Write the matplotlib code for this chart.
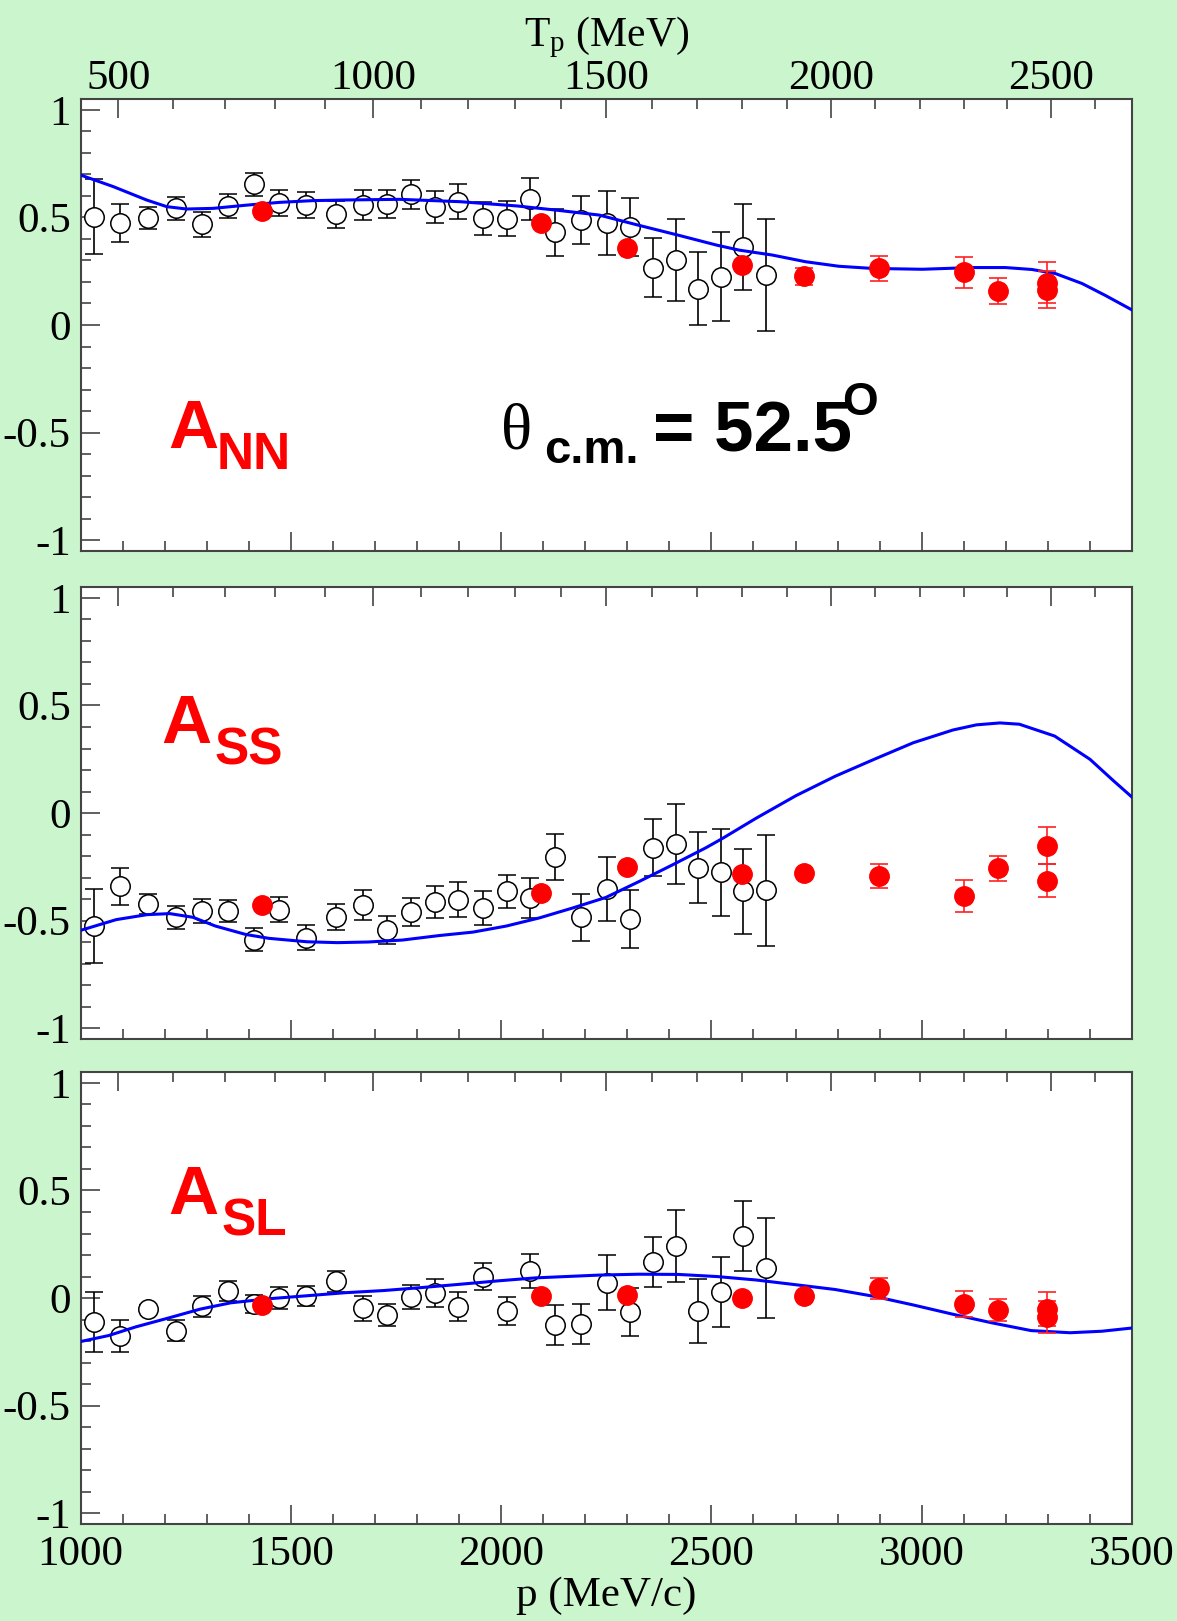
import numpy as np
import matplotlib
matplotlib.use("Agg")
import matplotlib.pyplot as plt
from matplotlib.ticker import MultipleLocator, FixedLocator, FormatStrFormatter

plt.rcParams['font.family'] = ['Liberation Serif', 'DejaVu Serif']
plt.rcParams['mathtext.fontset'] = 'custom'
plt.rcParams['mathtext.rm'] = 'Liberation Serif'
plt.rcParams['mathtext.it'] = 'Liberation Serif:italic'
plt.rcParams['axes.unicode_minus'] = False

# ---- data ----
p_open = [1031, 1094, 1160, 1227, 1289, 1351, 1412, 1472, 1537, 1607, 1671, 1728,
          1785, 1842, 1898, 1956, 2013, 2069, 2128, 2191, 2252, 2306, 2360, 2415,
          2469, 2523, 2576, 2630]
p_red = [1431, 2095, 2299, 2572, 2720, 2899, 3100, 3181, 3299, 3299]

ann_open = [0.503, 0.475, 0.498, 0.542, 0.469, 0.553, 0.654, 0.568, 0.557, 0.514,
            0.559, 0.562, 0.607, 0.550, 0.573, 0.495, 0.494, 0.584, 0.430, 0.488,
            0.475, 0.457, 0.267, 0.303, 0.168, 0.224, 0.363, 0.231]
ann_open_err = [0.175, 0.088, 0.050, 0.054, 0.058, 0.055, 0.053, 0.060, 0.059, 0.062,
                0.070, 0.066, 0.066, 0.074, 0.080, 0.078, 0.080, 0.097, 0.108, 0.110,
                0.150, 0.135, 0.136, 0.190, 0.170, 0.207, 0.200, 0.260]
ann_red = [0.531, 0.472, 0.360, 0.280, 0.227, 0.264, 0.244, 0.157, 0.196, 0.165]
ann_red_err = [0.01, 0.01, 0.01, 0.01, 0.039, 0.058, 0.073, 0.060, 0.095, 0.088]

ass_open = [-0.525, -0.341, -0.422, -0.484, -0.453, -0.456, -0.588, -0.449, -0.579, -0.482,
            -0.429, -0.545, -0.461, -0.413, -0.402, -0.442, -0.364, -0.395, -0.203, -0.484,
            -0.353, -0.492, -0.161, -0.143, -0.253, -0.276, -0.364, -0.359]
ass_open_err = [0.170, 0.087, 0.048, 0.054, 0.056, 0.052, 0.054, 0.058, 0.058, 0.060,
                0.070, 0.065, 0.065, 0.075, 0.082, 0.078, 0.078, 0.094, 0.108, 0.110,
                0.150, 0.134, 0.133, 0.187, 0.167, 0.204, 0.197, 0.259]
ass_red = [-0.426, -0.372, -0.250, -0.284, -0.278, -0.292, -0.387, -0.257, -0.152, -0.315]
ass_red_err = [0.01, 0.01, 0.01, 0.01, 0.01, 0.057, 0.074, 0.059, 0.086, 0.077]

asl_open = [-0.110, -0.178, -0.051, -0.151, -0.038, 0.033, -0.027, 0.002, 0.011, 0.078,
            -0.048, -0.078, 0.005, 0.024, -0.040, 0.100, -0.062, 0.127, -0.123, -0.119,
            0.072, -0.064, 0.169, 0.242, -0.059, 0.027, 0.287, 0.139]
asl_open_err = [0.140, 0.074, 0.020, 0.047, 0.048, 0.045, 0.042, 0.051, 0.046, 0.048,
                0.060, 0.052, 0.056, 0.064, 0.068, 0.062, 0.065, 0.080, 0.093, 0.092,
                0.126, 0.110, 0.116, 0.166, 0.149, 0.163, 0.162, 0.233]
asl_red = [-0.033, 0.011, 0.016, 0.000, 0.011, 0.046, -0.027, -0.054, -0.050, -0.088]
asl_red_err = [0.01, 0.01, 0.01, 0.01, 0.01, 0.049, 0.060, 0.052, 0.080, 0.075]

# theory curves
ann_th_p = [1000, 1078, 1157, 1205, 1252, 1315, 1395, 1474, 1553, 1632, 1759, 1903, 2039,
            2130, 2233, 2326, 2420, 2513, 2566, 2645, 2724, 2803, 2882, 3001, 3120, 3199,
            3262, 3318, 3381, 3436, 3500]
ann_th = [0.697, 0.643, 0.581, 0.550, 0.539, 0.542, 0.557, 0.570, 0.578, 0.581, 0.584,
          0.573, 0.553, 0.534, 0.511, 0.464, 0.418, 0.371, 0.348, 0.325, 0.294, 0.273,
          0.263, 0.259, 0.267, 0.267, 0.258, 0.239, 0.193, 0.138, 0.070]

ass_th_p = [1000, 1085, 1158, 1212, 1267, 1321, 1393, 1448, 1539, 1611, 1684, 1765, 1853,
            1933, 2012, 2091, 2170, 2249, 2328, 2407, 2487, 2526, 2607, 2701, 2794, 2887,
            2980, 3074, 3130, 3186, 3232, 3316, 3400, 3456, 3500]
ass_th = [-0.545, -0.495, -0.472, -0.467, -0.484, -0.525, -0.564, -0.582, -0.598, -0.602,
          -0.599, -0.590, -0.569, -0.553, -0.525, -0.487, -0.441, -0.392, -0.318, -0.241,
          -0.161, -0.118, -0.023, 0.081, 0.171, 0.250, 0.327, 0.386, 0.410, 0.419, 0.413,
          0.358, 0.250, 0.150, 0.074]

asl_th_p = [1000, 1067, 1131, 1212, 1285, 1357, 1448, 1539, 1629, 1720, 1811, 1901, 1992,
            2082, 2234, 2327, 2421, 2514, 2607, 2701, 2794, 2887, 2980, 3074, 3167, 3260,
            3353, 3428, 3500]
asl_th = [-0.202, -0.174, -0.134, -0.091, -0.051, -0.022, -0.003, 0.011, 0.025, 0.035,
          0.049, 0.064, 0.080, 0.094, 0.107, 0.111, 0.110, 0.100, 0.084, 0.062, 0.040,
          0.008, -0.032, -0.075, -0.115, -0.151, -0.161, -0.154, -0.139]

labels_main = ['A', 'A', 'A']
labels_sub = ['NN', 'SS', 'SL']

M_P = 938.27  # proton mass (MeV)


def p2T(p):
    p = np.asarray(p, dtype=float)
    return np.sqrt(p ** 2 + M_P ** 2) - M_P


def T2p(T):
    T = np.clip(np.asarray(T, dtype=float), 0, None)
    return np.sqrt(T ** 2 + 2 * T * M_P)


bg = '#CBF5CD'
spine_c = '#444444'
fig = plt.figure(figsize=(11.77, 16.21), dpi=100, facecolor=bg)

left, width, height = 0.0684, 0.8934, 0.2788
bottoms = [0.6601, 0.3590, 0.0598]

panels = [
    (ann_open, ann_open_err, ann_red, ann_red_err, ann_th_p, ann_th),
    (ass_open, ass_open_err, ass_red, ass_red_err, ass_th_p, ass_th),
    (asl_open, asl_open_err, asl_red, asl_red_err, asl_th_p, asl_th),
]
# label positions (axes fraction): A, subscript
lab_pos = [((0.083, 0.228), (0.129, 0.181)),
           ((0.077, 0.655), (0.127, 0.608)),
           ((0.083, 0.686), (0.134, 0.639))]

tick_fs = 31
for i, (yo, eo, yr, er, tp, tv) in enumerate(panels):
    ax = fig.add_axes([left, bottoms[i], width, height])
    ax.set_facecolor('white')
    ax.set_xlim(1000, 3500)
    ax.set_ylim(-1.05, 1.05)

    ax.errorbar(p_open, yo, yerr=eo, fmt='o', ms=14, mfc='white', mec='black',
                mew=1.1, ecolor='black', elinewidth=1.2, capsize=6.5, capthick=1.2,
                zorder=3)
    ax.plot(tp, tv, color='#0000FF', lw=2.2, zorder=4)
    ax.errorbar(p_red, yr, yerr=er, fmt='o', ms=14, mfc='#FF0000', mec='#FF0000',
                ecolor='#FF2020', elinewidth=1.2, capsize=6.5, capthick=1.2, zorder=5)

    for s in ax.spines.values():
        s.set_color(spine_c)
        s.set_linewidth(1.5)
    ax.spines['top'].set_visible(False)

    ax.xaxis.set_major_locator(MultipleLocator(500))
    ax.xaxis.set_minor_locator(MultipleLocator(100))
    ax.yaxis.set_major_locator(MultipleLocator(0.5))
    ax.yaxis.set_minor_locator(MultipleLocator(0.1))
    ax.yaxis.set_major_formatter(FormatStrFormatter('%g'))
    ax.tick_params(which='both', direction='in', top=False, right=False,
                   color=spine_c, width=1.2)
    ax.tick_params(which='major', length=14, labelsize=tick_fs)
    ax.tick_params(axis='x', which='major', pad=8)
    ax.tick_params(axis='y', which='major', pad=7)
    ax.tick_params(which='minor', length=7)
    if i < 2:
        ax.tick_params(labelbottom=False)
    else:
        ax.set_xlabel('p (MeV/c)', fontsize=31, labelpad=2)

    sec = ax.secondary_xaxis('top', functions=(p2T, T2p))
    sec.xaxis.set_major_locator(FixedLocator([500, 1000, 1500, 2000, 2500]))
    sec.xaxis.set_minor_locator(FixedLocator(np.arange(500, 2700, 100)))
    sec.tick_params(which='both', direction='in', color=spine_c, width=1.2)
    sec.tick_params(which='major', length=14, labelsize=tick_fs, pad=1)
    sec.tick_params(which='minor', length=7)
    sec.spines['top'].set_color(spine_c)
    sec.spines['top'].set_linewidth(1.5)
    if i == 0:
        sec.set_xlabel(r'T$_{\mathrm{p}}$ (MeV)', fontsize=30, labelpad=9)
    else:
        sec.set_xticklabels([])

    (ax_a, ay_a), (ax_s, ay_s) = lab_pos[i]
    ax.text(ax_a, ay_a, labels_main[i], transform=ax.transAxes, color='#FF0000',
            fontsize=50, fontweight='bold', family='Liberation Sans', va='baseline')
    ax.text(ax_s, ay_s, labels_sub[i], transform=ax.transAxes, color='#FF0000',
            fontsize=37, fontweight='bold', family='Liberation Sans', va='baseline')

    if i == 0:
        ax.text(0.400, 0.226, '\u03b8', transform=ax.transAxes, fontsize=47,
                family='Liberation Serif', va='baseline')
        ax.text(0.441, 0.195, 'c.m.', transform=ax.transAxes, fontsize=34,
                fontweight='bold', family='Liberation Sans', va='baseline')
        ax.text(0.5446, 0.221, '= 52.5', transform=ax.transAxes, fontsize=51,
                fontweight='bold', family='Liberation Sans', va='baseline')
        ax.text(0.724, 0.301, 'O', transform=ax.transAxes, fontsize=33,
                fontweight='bold', family='Liberation Sans', va='baseline')

fig.savefig('out.png', dpi=100, facecolor=bg)
